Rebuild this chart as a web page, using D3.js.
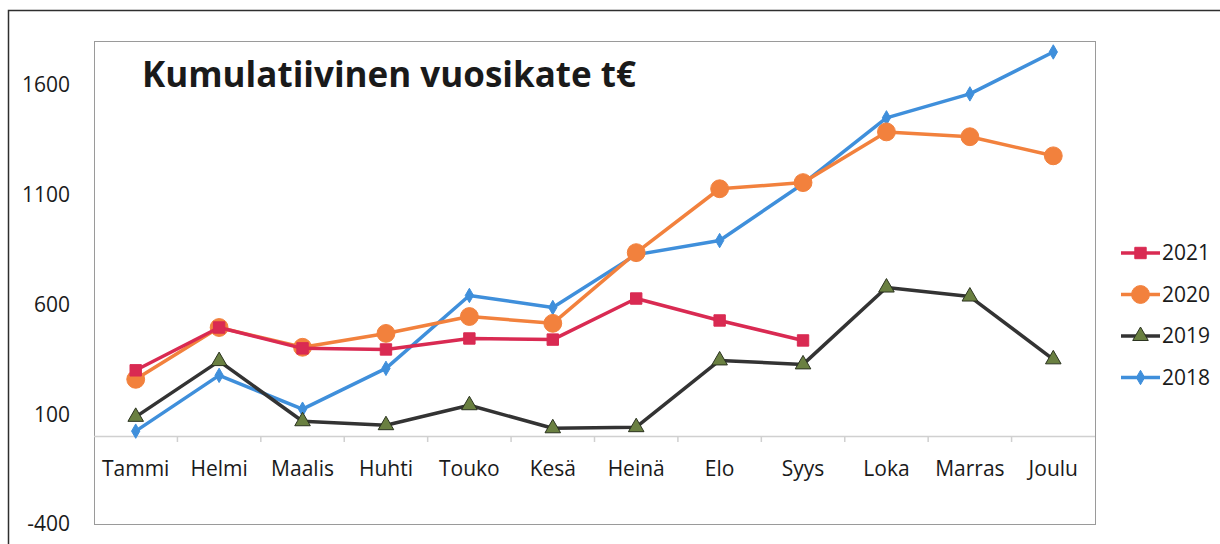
<!DOCTYPE html>
<html>
<head>
<meta charset="utf-8">
<script src="https://cdn.jsdelivr.net/npm/d3@7"></script>
<style>
  html, body { margin: 0; padding: 0; background: #fff; }
  text { font-family: "Open Sans", "Liberation Sans", sans-serif; fill: #1a1a1a; }
</style>
</head>
<body>
<div class="chart"></div>
<script>
'use strict'

const months = ['Tammi', 'Helmi', 'Maalis', 'Huhti', 'Touko', 'Kesä', 'Heinä', 'Elo', 'Syys', 'Loka', 'Marras', 'Joulu']
const yTicks = [-400, 100, 600, 1100, 1600]
const title = 'Kumulatiivinen vuosikate t€'

const v2021 = [300, 495, 400, 395, 445, 440, 627, 527, 436]
const v2020 = [259, 495, 405, 468, 545, 514, 836, 1127, 1155, 1386, 1364, 1277]
const v2019 = [88, 342, 68, 50, 141, 36, 41, 345, 327, 677, 636, 350]
const v2018 = [23, 277, 123, 309, 641, 586, 827, 891, 1150, 1450, 1559, 1750]

const seriesNames = ['2021', '2020', '2019', '2018']
const seriesValues = [v2021, v2020, v2019, v2018]

const width = 1220
const height = 544
const plot = { left: 94, top: 41, right: 1095, bottom: 524 }

const styles = {
  '2021': { line: '#d92a52', fill: '#d92a52', stroke: '#d92a52', shape: d3.symbolSquare, size: 130 },
  '2020': { line: '#f2813d', fill: '#f2813d', stroke: '#f2813d', shape: d3.symbolCircle, size: 250 },
  '2019': { line: '#333333', fill: '#6a8041', stroke: '#2b3320', shape: d3.symbolTriangle, size: 105 },
  '2018': { line: '#3f8fdb', fill: '#3f8fdb', stroke: '#3f8fdb', shape: d3.symbolDiamond, size: 60 }
}

const x = d3.scaleBand()
    .domain(months)
    .range([plot.left, plot.right])
    .padding(0)

const y = d3.scaleLinear()
    .domain([-400, 1800])
    .range([plot.bottom, plot.top])

const svg = d3.select('.chart').append('svg')
    .attr('width', width)
    .attr('height', height)

// outer frame (only top and left edges are inside the picture)
svg.append('path')
    .attr('d', 'M8.5,' + height + 'V10.5H' + width)
    .attr('fill', 'none')
    .attr('stroke', '#2e2e2e')
    .attr('stroke-width', 1.5)

// plot area
svg.append('rect')
    .attr('x', plot.left + 0.5)
    .attr('y', plot.top + 0.5)
    .attr('width', plot.right - plot.left)
    .attr('height', plot.bottom - plot.top)
    .attr('fill', 'none')
    .attr('stroke', '#9a9a9a')

// y labels
svg.append('g')
  .selectAll('text')
    .data(yTicks)
  .enter().append('text')
    .attr('x', 70)
    .attr('y', d => y(d))
    .attr('dy', '0.35em')
    .attr('text-anchor', 'end')
    .style('font-size', '21px')
    .text(d => d)

// category axis at zero
const xAxis = svg.append('g')
    .attr('transform', 'translate(0,' + Math.round(y(0)) + ')')

xAxis.append('line')
    .attr('x1', plot.left)
    .attr('x2', plot.right)
    .attr('y1', 0.5)
    .attr('y2', 0.5)
    .attr('stroke', '#d0d0d0')
    .attr('stroke-width', 1.5)

xAxis.selectAll('.tick')
    .data(months.slice(1))
  .enter().append('line')
    .attr('class', 'tick')
    .attr('x1', d => x(d))
    .attr('x2', d => x(d))
    .attr('y1', 0)
    .attr('y2', 6)
    .attr('stroke', '#d0d0d0')
    .attr('stroke-width', 1.5)

xAxis.selectAll('.lbl')
    .data(months)
  .enter().append('text')
    .attr('class', 'lbl')
    .attr('x', d => x(d) + x.bandwidth() / 2)
    .attr('y', 33)
    .attr('dy', '0.35em')
    .attr('text-anchor', 'middle')
    .style('font-size', '21px')
    .text(d => d)

// title
svg.append('text')
    .attr('x', 142)
    .attr('y', 87)
    .style('font-size', '35px')
    .style('font-weight', 'bold')
    .text(title)

const line = d3.line()
    .x((d, i) => x(months[i]) + x.bandwidth() / 2)
    .y(d => y(d))

const series = svg.selectAll('.series')
    .data(seriesNames.slice().reverse())
  .enter().append('g')
    .attr('class', 'series')

series.append('path')
    .attr('d', d => line(seriesValues[seriesNames.indexOf(d)]))
    .attr('fill', 'none')
    .attr('stroke', d => styles[d].line)
    .attr('stroke-width', 3.5)
    .attr('stroke-linejoin', 'round')

series.selectAll('.marker')
    .data(d => seriesValues[seriesNames.indexOf(d)].map((v, i) => ({ name: d, v: v, i: i })))
  .enter().append('path')
    .attr('class', 'marker')
    .attr('transform', d => 'translate(' + (x(months[d.i]) + x.bandwidth() / 2) + ',' + y(d.v) + ')')
    .attr('d', d => d3.symbol().type(styles[d.name].shape).size(styles[d.name].size)())
    .attr('fill', d => styles[d.name].fill)
    .attr('stroke', d => styles[d.name].stroke)
    .attr('stroke-width', 1)

// legend
const legend = svg.selectAll('.legend')
    .data(seriesNames)
  .enter().append('g')
    .attr('class', 'legend')
    .attr('transform', (d, i) => 'translate(1121,' + (253 + i * 41.5) + ')')

legend.append('line')
    .attr('x1', 0)
    .attr('x2', 39)
    .attr('stroke', d => styles[d].line)
    .attr('stroke-width', 3.5)

legend.append('path')
    .attr('transform', 'translate(19.5,0)')
    .attr('d', d => d3.symbol().type(styles[d].shape).size(styles[d].size)())
    .attr('fill', d => styles[d].fill)
    .attr('stroke', d => styles[d].stroke)

legend.append('text')
    .attr('x', 41)
    .attr('dy', '0.35em')
    .style('font-size', '21px')
    .text(d => d)
</script>
</body>
</html>
